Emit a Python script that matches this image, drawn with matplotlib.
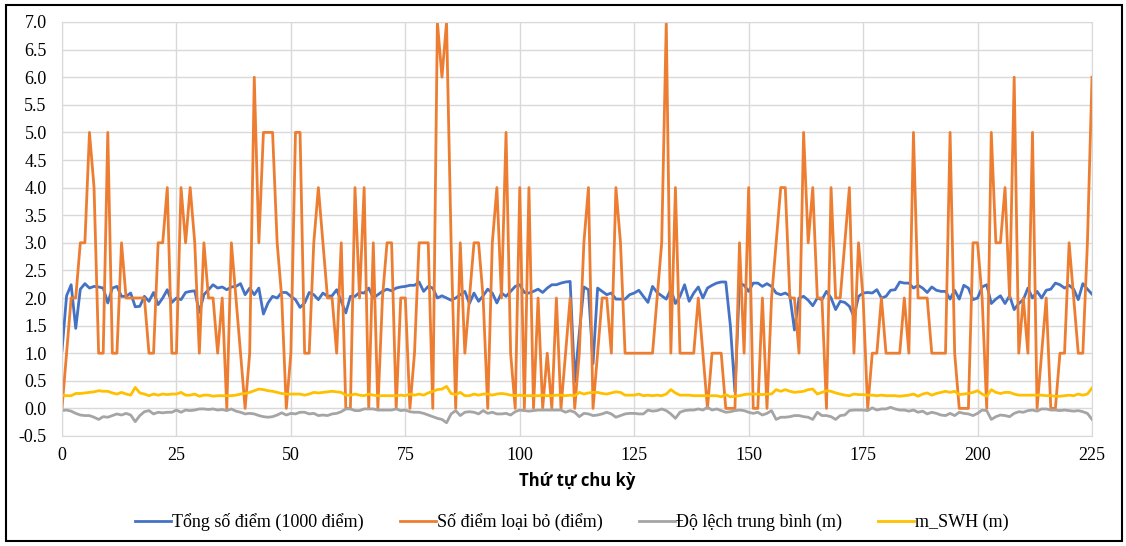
import matplotlib
matplotlib.use("Agg")
import matplotlib.pyplot as plt
from matplotlib.patches import Rectangle

# Thứ tự chu kỳ 0..225
tong_so_diem = [
    1.05, 2.04, 2.24, 1.45, 2.16, 2.26, 2.18, 2.21, 2.20, 2.18, 1.91, 2.18, 2.21, 2.03, 2.03, 2.09, 1.84, 1.85, 2.03, 1.94,
    2.10, 1.88, 2.00, 2.15, 1.92, 2.00, 1.97, 2.10, 2.12, 2.13, 1.74, 2.06, 2.15, 2.24, 2.18, 2.20, 2.15, 2.20, 2.21, 2.26,
    2.06, 2.18, 2.06, 2.18, 1.71, 1.91, 2.03, 2.00, 2.10, 2.10, 2.03, 1.97, 1.83, 1.91, 2.10, 2.06, 1.97, 2.09, 2.03, 2.04,
    2.15, 1.94, 1.73, 2.03, 2.03, 2.10, 2.09, 2.18, 2.00, 2.06, 2.12, 2.16, 2.13, 2.18, 2.20, 2.21, 2.23, 2.23, 2.29, 2.12,
    2.21, 2.18, 2.00, 2.04, 2.00, 1.96, 2.00, 2.06, 2.12, 1.90, 2.09, 1.94, 2.04, 2.16, 2.09, 1.91, 2.09, 2.03, 2.12, 2.21,
    2.24, 2.10, 2.09, 2.12, 2.16, 2.10, 2.18, 2.24, 2.24, 2.27, 2.29, 2.30, 0.48, 1.36, 2.20, 2.15, 0.81, 2.18, 2.12, 2.06,
    2.09, 1.98, 1.98, 1.98, 2.06, 2.09, 2.14, 2.03, 1.92, 2.21, 2.10, 2.04, 1.98, 2.16, 1.90, 2.03, 2.24, 1.94, 2.09, 2.20,
    2.00, 2.18, 2.23, 2.27, 2.29, 2.29, 1.50, 0.30, 2.27, 2.23, 2.12, 2.27, 2.27, 2.21, 2.26, 2.21, 2.09, 2.06, 2.09, 2.04,
    1.42, 2.00, 2.03, 1.96, 1.86, 2.00, 1.97, 2.12, 2.00, 1.79, 1.94, 1.92, 1.85, 1.66, 2.03, 2.09, 2.10, 2.09, 2.15, 2.00,
    2.03, 2.14, 2.15, 2.29, 2.27, 2.27, 2.18, 2.23, 2.18, 2.10, 2.20, 2.14, 2.12, 2.12, 1.98, 2.14, 1.98, 2.23, 2.18, 1.97,
    2.00, 2.20, 2.24, 1.90, 1.98, 2.04, 1.90, 2.04, 1.79, 1.90, 1.97, 2.18, 2.00, 2.12, 2.00, 2.14, 2.16, 2.27, 2.24, 2.18,
    2.23, 2.16, 1.97, 2.26, 2.16, 2.07,
]

so_diem_loai_bo = [
    0, 1, 2, 2, 3, 3, 5, 4, 1, 1, 5, 1, 1, 3, 2, 2, 2, 2, 2, 1,
    1, 3, 3, 4, 1, 1, 4, 3, 4, 3, 1, 3, 2, 2, 1, 2, 0, 3, 2, 1,
    0, 1, 6, 3, 5, 5, 5, 3, 2, 0, 1, 5, 5, 1, 1, 3, 4, 3, 2, 2,
    1, 3, 0, 0, 4, 2, 4, 0, 3, 0, 2, 3, 3, 0, 2, 2, 0, 1, 3, 3,
    3, 0, 7, 6, 7, 3, 0, 3, 1, 2, 3, 3, 2, 0, 3, 4, 2, 5, 1, 0,
    4, 0, 4, 0, 2, 0, 1, 0, 2, 0, 1, 2, 0, 1, 3, 4, 0, 1, 2, 2,
    1, 4, 3, 1, 1, 1, 1, 1, 1, 1, 2, 3, 7, 1, 4, 1, 1, 1, 1, 2,
    1, 0, 1, 1, 1, 0, 0, 0, 3, 1, 4, 0, 0, 2, 0, 2, 3, 4, 4, 2,
    2, 1, 5, 3, 4, 2, 2, 0, 4, 2, 2, 3, 4, 1, 3, 2, 0, 1, 1, 2,
    1, 1, 1, 1, 2, 1, 5, 2, 2, 2, 1, 1, 1, 1, 5, 1, 0, 0, 0, 3,
    3, 2, 0, 5, 3, 3, 4, 2, 6, 1, 2, 1, 5, 0, 1, 2, 0, 0, 1, 1,
    3, 2, 1, 1, 3, 6,
]

do_lech_tb = [
    -0.04, -0.03, -0.05, -0.09, -0.12, -0.13, -0.13, -0.16, -0.20, -0.15, -0.16, -0.13, -0.10, -0.12, -0.09, -0.12, -0.24, -0.13, -0.06, -0.04,
    -0.10, -0.07, -0.08, -0.07, -0.07, -0.03, -0.07, -0.03, -0.04, -0.03, -0.01, -0.01, -0.02, -0.01, -0.03, -0.02, -0.04, -0.01, -0.05, -0.07,
    -0.10, -0.09, -0.10, -0.13, -0.15, -0.16, -0.15, -0.12, -0.08, -0.12, -0.09, -0.10, -0.07, -0.07, -0.10, -0.09, -0.13, -0.12, -0.13, -0.10,
    -0.09, -0.06, -0.01, -0.01, -0.04, -0.04, -0.01, -0.01, -0.01, -0.03, -0.03, -0.03, -0.03, -0.01, -0.04, -0.03, -0.06, -0.07, -0.07, -0.09,
    -0.12, -0.15, -0.18, -0.20, -0.26, -0.10, -0.04, -0.13, -0.07, -0.06, -0.07, -0.10, -0.04, -0.09, -0.07, -0.10, -0.10, -0.09, -0.12, -0.06,
    -0.03, -0.04, -0.05, -0.04, -0.03, -0.03, -0.03, -0.03, -0.03, -0.03, -0.07, -0.04, -0.07, -0.15, -0.09, -0.10, -0.13, -0.12, -0.10, -0.07,
    -0.10, -0.16, -0.13, -0.10, -0.09, -0.09, -0.10, -0.10, -0.03, -0.05, -0.04, -0.01, -0.04, -0.10, -0.18, -0.07, -0.04, -0.03, -0.03, -0.01,
    -0.03, 0.02, -0.03, -0.01, -0.04, -0.07, -0.06, -0.04, -0.03, -0.04, -0.07, -0.09, -0.07, -0.12, -0.09, -0.04, -0.20, -0.16, -0.16, -0.15,
    -0.13, -0.13, -0.15, -0.16, -0.20, -0.07, -0.13, -0.13, -0.15, -0.20, -0.13, -0.12, -0.04, -0.03, -0.03, -0.03, -0.04, 0.01, -0.03, -0.01,
    -0.01, 0.02, -0.01, -0.03, -0.03, -0.05, -0.03, -0.07, -0.05, -0.10, -0.07, -0.09, -0.12, -0.13, -0.09, -0.13, -0.07, -0.09, -0.10, -0.13,
    -0.09, -0.03, -0.04, -0.20, -0.15, -0.12, -0.13, -0.15, -0.09, -0.06, -0.07, -0.04, -0.03, -0.05, -0.01, -0.01, -0.03, -0.03, -0.04, -0.03,
    -0.04, -0.05, -0.04, -0.06, -0.09, -0.20,
]

m_swh = [
    0.24, 0.23, 0.23, 0.27, 0.27, 0.28, 0.29, 0.30, 0.32, 0.31, 0.31, 0.28, 0.26, 0.29, 0.26, 0.24, 0.38, 0.28, 0.26, 0.23,
    0.26, 0.24, 0.26, 0.25, 0.26, 0.26, 0.29, 0.24, 0.24, 0.26, 0.22, 0.24, 0.24, 0.22, 0.23, 0.23, 0.23, 0.23, 0.24, 0.26,
    0.27, 0.29, 0.32, 0.35, 0.34, 0.32, 0.31, 0.29, 0.27, 0.26, 0.26, 0.26, 0.26, 0.24, 0.26, 0.29, 0.28, 0.29, 0.30, 0.31,
    0.30, 0.29, 0.24, 0.24, 0.26, 0.24, 0.23, 0.26, 0.24, 0.23, 0.23, 0.23, 0.23, 0.23, 0.24, 0.23, 0.26, 0.24, 0.26, 0.24,
    0.28, 0.31, 0.34, 0.35, 0.40, 0.27, 0.25, 0.29, 0.23, 0.23, 0.26, 0.24, 0.26, 0.26, 0.24, 0.26, 0.27, 0.26, 0.24, 0.23,
    0.24, 0.23, 0.23, 0.23, 0.23, 0.24, 0.23, 0.23, 0.24, 0.24, 0.23, 0.24, 0.23, 0.29, 0.26, 0.28, 0.29, 0.29, 0.27, 0.26,
    0.28, 0.30, 0.29, 0.24, 0.24, 0.24, 0.26, 0.23, 0.24, 0.23, 0.24, 0.23, 0.26, 0.34, 0.28, 0.24, 0.24, 0.24, 0.23, 0.23,
    0.23, 0.23, 0.23, 0.23, 0.21, 0.25, 0.21, 0.22, 0.23, 0.25, 0.26, 0.26, 0.26, 0.25, 0.26, 0.26, 0.34, 0.31, 0.34, 0.31,
    0.29, 0.30, 0.31, 0.34, 0.35, 0.26, 0.29, 0.32, 0.31, 0.28, 0.26, 0.24, 0.23, 0.26, 0.25, 0.25, 0.24, 0.24, 0.23, 0.24,
    0.23, 0.23, 0.23, 0.22, 0.23, 0.24, 0.26, 0.22, 0.26, 0.28, 0.24, 0.27, 0.29, 0.31, 0.29, 0.31, 0.25, 0.26, 0.27, 0.29,
    0.32, 0.26, 0.22, 0.34, 0.29, 0.27, 0.29, 0.29, 0.26, 0.24, 0.24, 0.24, 0.24, 0.24, 0.24, 0.23, 0.23, 0.22, 0.22, 0.23,
    0.24, 0.23, 0.26, 0.24, 0.26, 0.37,
]

chu_ky = list(range(len(tong_so_diem)))

series = [
    (tong_so_diem, "Tổng số điểm (1000 điểm)", "#4472C4"),
    (so_diem_loai_bo, "Số điểm loại bỏ (điểm)", "#ED7D31"),
    (do_lech_tb, "Độ lệch trung bình (m)", "#A5A5A5"),
    (m_swh, "m_SWH (m)", "#FFC000"),
]

fig = plt.figure(figsize=(11.26, 5.46), dpi=100)
ax = fig.add_axes([62 / 1126, 1 - 436 / 546, 1030 / 1126, 414 / 546])

for vals, name, col in series:
    ax.plot(chu_ky, vals, color=col, lw=2, label=name, solid_joinstyle="round")

ax.set_xlim(0, 225)
ax.set_ylim(-0.5, 7.0)
ax.set_xticks(range(0, 226, 25))
ax.set_yticks([i * 0.5 - 0.5 for i in range(16)])
ax.yaxis.set_major_formatter(plt.FormatStrFormatter("%.1f"))
ax.grid(True, color="#D9D9D9", lw=1)
ax.set_axisbelow(True)
for s in ax.spines.values():
    s.set_color("#D9D9D9")
ax.tick_params(length=0, labelsize=13)
ax.tick_params(axis="y", pad=11)
ax.tick_params(axis="x", pad=8)
for lab in ax.get_xticklabels() + ax.get_yticklabels():
    lab.set_fontfamily("Liberation Serif")

ax.set_xlabel("Thứ tự chu kỳ", fontsize=12, fontweight="bold", family="Open Sans", labelpad=6)

leg = fig.legend(loc="center", bbox_to_anchor=(572 / 1126, 1 - 522 / 546), ncol=4, frameon=False,
                 prop={"family": "Liberation Serif", "size": 13}, handlelength=2.0, handletextpad=0.05,
                 columnspacing=2.0)

fig.patches.append(Rectangle((6 / 1126, 5 / 546), 1116 / 1126, 536 / 546, transform=fig.transFigure,
                             fill=False, edgecolor="black", lw=1.5))

fig.savefig("out.png", dpi=100)
